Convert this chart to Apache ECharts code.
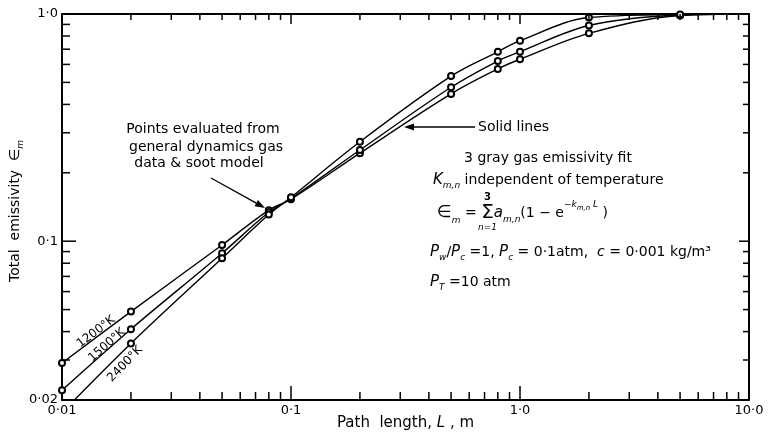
<!DOCTYPE html>
<html><head><meta charset="utf-8">
<script src="https://cdn.jsdelivr.net/npm/echarts@6/dist/echarts.min.js"></script>
<style>html,body{margin:0;padding:0;background:#fff}#c{width:770px;height:433px}</style>
</head><body><div id="c"></div>
<script>
// ---- data ----
const pathLength = [0.01, 0.02, 0.05, 0.08, 0.1, 0.2, 0.5, 0.8, 1, 2, 5];
const emis1200K = [0.0291, 0.049, 0.0962, 0.137, 0.153, 0.244, 0.445, 0.573, 0.632, 0.822, 0.985];
const emis1500K = [0.0221, 0.041, 0.0885, 0.134, 0.154, 0.252, 0.476, 0.621, 0.682, 0.890, 0.990];
const emis2400K = [0.0176, 0.0355, 0.0841, 0.131, 0.156, 0.274, 0.533, 0.682, 0.763, 0.965, 0.995];
const curveEndLength = 10;      // curves run on to the axis end
const curveEndEmissivity = 1.0;
const curveNames = ['1200°K', '1500°K', '2400°K'];

const xMin = 0.01, xMax = 10, yMin = 0.02, yMax = 1;
const xLabelValues = [0.01, 0.1, 1, 10];
const xLabelTexts = ['0·01', '0·1', '1·0', '10·0'];
const yLabelValues = [0.02, 0.1, 1];
const yLabelTexts = ['0·02', '0·1', '1·0'];
const xTickValues = [0.02,0.03,0.04,0.05,0.06,0.07,0.08,0.09,0.1,0.2,0.3,0.4,0.5,0.6,0.7,0.8,0.9,1,2,3,4,5,6,7,8,9];
const yTickValues = [0.03,0.04,0.05,0.06,0.07,0.08,0.09,0.1,0.2,0.3,0.4,0.5,0.6,0.7,0.8,0.9];

// ---- helpers ----
const FONT = '"DejaVu Sans", sans-serif';
const mctx = document.createElement('canvas').getContext('2d');
function txt(x, y, text, font, align, rotDeg) {
  return {type: 'text', x: x, y: y, rotation: (rotDeg || 0) * Math.PI / 180, silent: true, z: 10,
    style: {text: text, font: font, fill: '#000', align: align || 'left', verticalAlign: 'middle',
            textAlign: align || 'left', textVerticalAlign: 'middle'}};
}
function pieceFont(p) { return (p.i ? 'italic ' : '') + (p.s || 14) + 'px ' + FONT; }
function runWidth(pieces) {
  let w = 0;
  pieces.forEach(function (p) { mctx.font = pieceFont(p); w += mctx.measureText(p.t).width + (p.g || 0); });
  return w;
}
function run(x0, y0, pieces) {
  const els = []; let x = x0;
  pieces.forEach(function (p) {
    const font = pieceFont(p);
    mctx.font = font;
    const w = mctx.measureText(p.t).width;
    els.push(txt(x, y0 + (p.dy || 0), p.t, font, 'left'));
    if (p.over) els.push(txt(x + w / 2, y0 - 16, p.over, 'bold 10px ' + FONT, 'center'));
    if (p.under) els.push(txt(x + w / 2, y0 + 15, p.under, 'italic 9px ' + FONT, 'center'));
    x += w + (p.g || 0);
  });
  return els;
}
function arrow(x1, y1, x2, y2) {
  const a = Math.atan2(y2 - y1, x2 - x1), L = 10, W = 3.5;
  const bx = x2 - L * Math.cos(a), by = y2 - L * Math.sin(a);
  return [
    {type: 'line', silent: true, z: 10, shape: {x1: x1, y1: y1, x2: bx, y2: by}, style: {stroke: '#000', lineWidth: 1.3}},
    {type: 'polygon', silent: true, z: 10, shape: {points: [[x2, y2], [bx - W * Math.sin(a), by + W * Math.cos(a)], [bx + W * Math.sin(a), by - W * Math.cos(a)]]}, style: {fill: '#000'}}
  ];
}
function lookup(vals, texts) {
  return function (v) {
    for (let i = 0; i < vals.length; i++) if (Math.abs(Math.log10(v) - Math.log10(vals[i])) < 1e-3) return texts[i];
    return '';
  };
}
function isDecade(v) { const l = Math.log10(v); return Math.abs(l - Math.round(l)) < 1e-6; }

function curve(name, vals) {
  const data = pathLength.map(function (L, i) { return [L, vals[i]]; });
  data.push({value: [curveEndLength, curveEndEmissivity], symbol: 'none'});
  return {type: 'line', name: name, data: data, smooth: 0.35,
    symbol: 'emptyCircle', symbolSize: 6, showAllSymbol: true, clip: true, z: 3,
    itemStyle: {color: '#000', borderWidth: 1}, lineStyle: {color: '#000', width: 1.4},
    emphasis: {disabled: true}};
}

const axisCommonX = {type: 'log', logBase: 10, min: xMin, max: xMax, splitLine: {show: false}, axisTick: {show: false}, minorTick: {show: false}};
const axisCommonY = {type: 'log', logBase: 10, min: yMin, max: yMax, splitLine: {show: false}, axisTick: {show: false}, minorTick: {show: false}};
const lineSt = {show: true, lineStyle: {color: '#000', width: 2}};

const chart = echarts.init(document.getElementById('c'), null, {renderer: 'canvas'});

// y-axis title, laid out along the rotated baseline
const yTitlePieces = [{t: 'Total  emissivity  ∈', s: 14}, {t: 'm', i: 1, s: 9, dy: 6}];
const yTitle = {type: 'group', x: 15, y: 211, rotation: Math.PI / 2, silent: true,
  children: run(-runWidth(yTitlePieces) / 2, 0, yTitlePieces)};

const graphics = [].concat(
  [yTitle,
   txt(203, 129, 'Points evaluated from', '14px ' + FONT, 'center'),
   txt(206, 147, 'general dynamics gas', '14px ' + FONT, 'center'),
   txt(199, 163, 'data & soot model', '14px ' + FONT, 'center')],
  arrow(211, 178, 265, 208),
  arrow(475, 127, 404, 127),
  [txt(478, 127, 'Solid lines', '14px ' + FONT, 'left'),
   txt(548, 158, '3 gray gas emissivity fit', '14px ' + FONT, 'center')],
  run(433, 180, [{t: 'K', i: 1, s: 15}, {t: 'm,n', i: 1, s: 9, dy: 6}, {t: ' independent of temperature'}]),
  run(437, 213, [{t: '∈', s: 17}, {t: 'm', i: 1, s: 9, dy: 8}, {t: ' = '}, {t: 'Σ', s: 20, over: '3', under: 'n=1'},
                 {t: 'a', i: 1, s: 15}, {t: 'm,n', i: 1, s: 9, dy: 7}, {t: '(1 − e'}, {t: '−k', i: 1, s: 9, dy: -8},
                 {t: 'm,n', i: 1, s: 7, dy: -5}, {t: ' L', i: 1, s: 9, dy: -8}, {t: ' )'}]),
  run(430, 252, [{t: 'P', i: 1, s: 15}, {t: 'w', i: 1, s: 9, dy: 6}, {t: '/'}, {t: 'P', i: 1, s: 15}, {t: 'c', i: 1, s: 9, dy: 6},
                 {t: ' =1, '}, {t: 'P', i: 1, s: 15}, {t: 'c', i: 1, s: 9, dy: 6}, {t: ' = 0·1atm,  '}, {t: 'c', i: 1, s: 14},
                 {t: ' = 0·001 kg/m³'}]),
  run(430, 282, [{t: 'P', i: 1, s: 15}, {t: 'T', i: 1, s: 9, dy: 6}, {t: ' =10 atm'}]),
  [txt(96, 332, curveNames[0], '12px ' + FONT, 'center', 37),
   txt(107, 345, curveNames[1], '12px ' + FONT, 'center', 41),
   txt(125, 364, curveNames[2], '12px ' + FONT, 'center', 46)]
);

chart.setOption({
  animation: false,
  backgroundColor: '#fff',
  grid: {left: 62, right: 21, top: 14, bottom: 33, containLabel: false, outerBoundsMode: 'none'},
  xAxis: [
    Object.assign({}, axisCommonX, {position: 'bottom', axisLine: lineSt,
      name: 'Path  length, {i|L} , m', nameLocation: 'middle', nameGap: 16, nameMoveOverlap: false,
      nameTextStyle: {fontSize: 15, fontFamily: FONT, color: '#000', verticalAlign: 'top',
        rich: {i: {fontSize: 15, fontFamily: FONT, fontStyle: 'italic', color: '#000'}}},
      axisLabel: {show: true, margin: 4, fontSize: 13, fontFamily: FONT, color: '#000',
        formatter: lookup(xLabelValues, xLabelTexts)}}),
    Object.assign({}, axisCommonX, {position: 'top', axisLine: lineSt, axisLabel: {show: false}})
  ],
  yAxis: [
    Object.assign({}, axisCommonY, {position: 'left', axisLine: lineSt,
      axisLabel: {show: true, margin: 4, fontSize: 13, fontFamily: FONT, color: '#000',
        formatter: lookup(yLabelValues, yLabelTexts)}}),
    Object.assign({}, axisCommonY, {position: 'right', axisLine: lineSt, axisLabel: {show: false}})
  ],
  series: [
    curve(curveNames[0], emis1200K),
    curve(curveNames[1], emis1500K),
    curve(curveNames[2], emis2400K),
    {type: 'custom', name: 'xticks', silent: true, clip: false, z: 5,
      data: xTickValues.map(function (v) { return [v, yMin]; }),
      renderItem: function (params, api) {
        const v = api.value(0);
        const p = api.coord([v, yMin]);
        const cs = params.coordSys;
        const big = isDecade(v);
        const lb = big ? 14 : 8, lt = big ? 10 : 6;
        const bot = cs.y + cs.height;
        return {type: 'group', children: [
          {type: 'line', shape: {x1: p[0], y1: bot, x2: p[0], y2: bot - lb}, style: {stroke: '#000', lineWidth: 1.5}},
          {type: 'line', shape: {x1: p[0], y1: cs.y, x2: p[0], y2: cs.y + lt}, style: {stroke: '#000', lineWidth: 1.5}}
        ]};
      }},
    {type: 'custom', name: 'yticks', silent: true, clip: false, z: 5,
      data: yTickValues.map(function (v) { return [xMin, v]; }),
      renderItem: function (params, api) {
        const v = api.value(1);
        const p = api.coord([xMin, v]);
        const cs = params.coordSys;
        const big = isDecade(v);
        const ll = big ? 14 : 8, lr = big ? 10 : 6;
        const right = cs.x + cs.width;
        return {type: 'group', children: [
          {type: 'line', shape: {x1: cs.x, y1: p[1], x2: cs.x + ll, y2: p[1]}, style: {stroke: '#000', lineWidth: 1.5}},
          {type: 'line', shape: {x1: right, y1: p[1], x2: right - lr, y2: p[1]}, style: {stroke: '#000', lineWidth: 1.5}}
        ]};
      }}
  ],
  graphic: {elements: graphics}
});
</script></body></html>
